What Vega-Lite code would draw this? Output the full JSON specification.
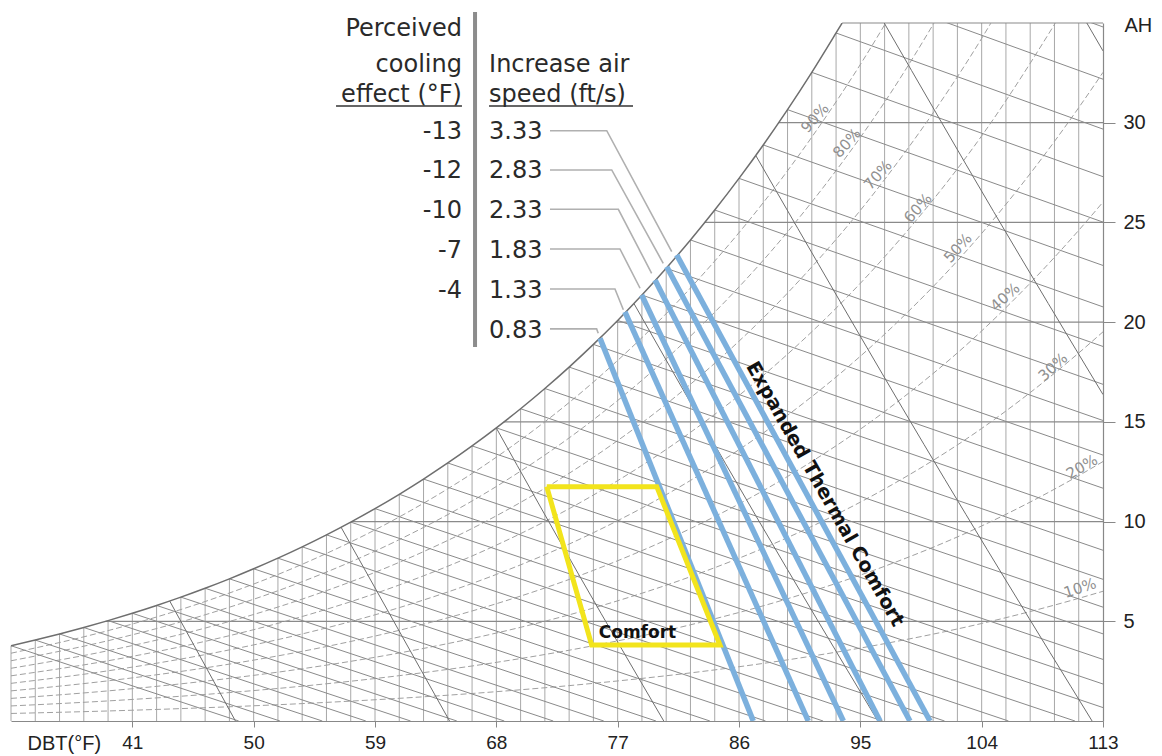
{
  "$schema": "https://vega.github.io/schema/vega-lite/v6.json",
  "width": 1092,
  "height": 698,
  "autosize": {"type": "none"},
  "padding": {"left": 11, "top": 23, "right": 59, "bottom": 35},
  "background": "white",
  "config": {"view": {"stroke": null}},
  "datasets": {
    "vert": [
      {"t":32,"w":3.775},{"t":33.8,"w":4.06},{"t":35.6,"w":4.364},{"t":37.4,"w":4.688},{"t":39.2,"w":5.034},{"t":41,"w":5.403},{"t":42.8,"w":5.795},{"t":44.6,"w":6.212},{"t":46.4,"w":6.657},{"t":48.2,"w":7.129},{"t":50,"w":7.632},{"t":51.8,"w":8.165},{"t":53.6,"w":8.732},{"t":55.4,"w":9.334},{"t":57.2,"w":9.973},{"t":59,"w":10.65},{"t":60.8,"w":11.369},{"t":62.6,"w":12.131},{"t":64.4,"w":12.938},{"t":66.2,"w":13.794},{"t":68,"w":14.699},{"t":69.8,"w":15.658},{"t":71.6,"w":16.673},{"t":73.4,"w":17.747},{"t":75.2,"w":18.884},{"t":77,"w":20.087},{"t":78.8,"w":21.358},{"t":80.6,"w":22.702},{"t":82.4,"w":24.122},{"t":84.2,"w":25.623},{"t":86,"w":27.21},{"t":87.8,"w":28.885},{"t":89.6,"w":30.655},{"t":91.4,"w":32.525},{"t":93.2,"w":34.5},{"t":95,"w":35},{"t":96.8,"w":35},{"t":98.6,"w":35},{"t":100.4,"w":35},{"t":102.2,"w":35},{"t":104,"w":35},{"t":105.8,"w":35},{"t":107.6,"w":35},{"t":109.4,"w":35},{"t":111.2,"w":35}
    ],
    "sat": [
      {"t":32,"w":3.775},{"t":33.8,"w":4.06},{"t":35.6,"w":4.364},{"t":37.4,"w":4.688},{"t":39.2,"w":5.034},{"t":41,"w":5.403},{"t":42.8,"w":5.795},{"t":44.6,"w":6.212},{"t":46.4,"w":6.657},{"t":48.2,"w":7.129},{"t":50,"w":7.632},{"t":51.8,"w":8.165},{"t":53.6,"w":8.732},{"t":55.4,"w":9.334},{"t":57.2,"w":9.973},{"t":59,"w":10.65},{"t":60.8,"w":11.369},{"t":62.6,"w":12.131},{"t":64.4,"w":12.938},{"t":66.2,"w":13.794},{"t":68,"w":14.699},{"t":69.8,"w":15.658},{"t":71.6,"w":16.673},{"t":73.4,"w":17.747},{"t":75.2,"w":18.884},{"t":77,"w":20.087},{"t":78.8,"w":21.358},{"t":80.6,"w":22.702},{"t":82.4,"w":24.122},{"t":84.2,"w":25.623},{"t":86,"w":27.21},{"t":87.8,"w":28.885},{"t":89.6,"w":30.655},{"t":91.4,"w":32.525},{"t":93.2,"w":34.5},{"t":93.65,"w":35}
    ],
    "hor": [
      {"t":39.02,"w":5},{"t":57.27,"w":10},{"t":68.56,"w":15},{"t":76.87,"w":20},{"t":83.45,"w":25},{"t":88.93,"w":30},{"t":93.65,"w":35}
    ],
    "rh": [
      {"rh":10,"t":32,"w":0.378},{"rh":10,"t":39.2,"w":0.503},{"rh":10,"t":46.4,"w":0.666},{"rh":10,"t":53.6,"w":0.873},{"rh":10,"t":60.8,"w":1.137},{"rh":10,"t":68,"w":1.47},{"rh":10,"t":75.2,"w":1.888},{"rh":10,"t":82.4,"w":2.412},{"rh":10,"t":89.6,"w":3.066},{"rh":10,"t":96.8,"w":3.879},{"rh":10,"t":104,"w":4.89},{"rh":10,"t":111.2,"w":6.151},{"rh":10,"t":113,"w":6.505},
      {"rh":20,"t":32,"w":0.755},{"rh":20,"t":39.2,"w":1.007},{"rh":20,"t":46.4,"w":1.331},{"rh":20,"t":53.6,"w":1.746},{"rh":20,"t":60.8,"w":2.274},{"rh":20,"t":68,"w":2.94},{"rh":20,"t":75.2,"w":3.777},{"rh":20,"t":82.4,"w":4.824},{"rh":20,"t":89.6,"w":6.131},{"rh":20,"t":96.8,"w":7.758},{"rh":20,"t":104,"w":9.78},{"rh":20,"t":111.2,"w":12.302},{"rh":20,"t":113,"w":13.01},
      {"rh":30,"t":32,"w":1.133},{"rh":30,"t":39.2,"w":1.51},{"rh":30,"t":46.4,"w":1.997},{"rh":30,"t":53.6,"w":2.62},{"rh":30,"t":60.8,"w":3.411},{"rh":30,"t":68,"w":4.41},{"rh":30,"t":75.2,"w":5.665},{"rh":30,"t":82.4,"w":7.237},{"rh":30,"t":89.6,"w":9.197},{"rh":30,"t":96.8,"w":11.637},{"rh":30,"t":104,"w":14.669},{"rh":30,"t":111.2,"w":18.454},{"rh":30,"t":113,"w":19.515},
      {"rh":40,"t":32,"w":1.51},{"rh":40,"t":39.2,"w":2.014},{"rh":40,"t":46.4,"w":2.663},{"rh":40,"t":53.6,"w":3.493},{"rh":40,"t":60.8,"w":4.548},{"rh":40,"t":68,"w":5.88},{"rh":40,"t":75.2,"w":7.554},{"rh":40,"t":82.4,"w":9.649},{"rh":40,"t":89.6,"w":12.262},{"rh":40,"t":96.8,"w":15.516},{"rh":40,"t":104,"w":19.559},{"rh":40,"t":111.2,"w":24.605},{"rh":40,"t":113,"w":26.02},
      {"rh":50,"t":32,"w":1.888},{"rh":50,"t":39.2,"w":2.517},{"rh":50,"t":46.4,"w":3.329},{"rh":50,"t":53.6,"w":4.366},{"rh":50,"t":60.8,"w":5.685},{"rh":50,"t":68,"w":7.35},{"rh":50,"t":75.2,"w":9.442},{"rh":50,"t":82.4,"w":12.061},{"rh":50,"t":89.6,"w":15.328},{"rh":50,"t":96.8,"w":19.395},{"rh":50,"t":104,"w":24.449},{"rh":50,"t":111.2,"w":30.756},{"rh":50,"t":113,"w":32.525},
      {"rh":60,"t":32,"w":2.265},{"rh":60,"t":39.2,"w":3.02},{"rh":60,"t":46.4,"w":3.994},{"rh":60,"t":53.6,"w":5.239},{"rh":60,"t":60.8,"w":6.821},{"rh":60,"t":68,"w":8.819},{"rh":60,"t":75.2,"w":11.33},{"rh":60,"t":82.4,"w":14.473},{"rh":60,"t":89.6,"w":18.393},{"rh":60,"t":96.8,"w":23.273},{"rh":60,"t":104,"w":29.339},{"rh":60,"t":111.2,"w":36.907},
      {"rh":70,"t":32,"w":2.643},{"rh":70,"t":39.2,"w":3.524},{"rh":70,"t":46.4,"w":4.66},{"rh":70,"t":53.6,"w":6.112},{"rh":70,"t":60.8,"w":7.958},{"rh":70,"t":68,"w":10.289},{"rh":70,"t":75.2,"w":13.219},{"rh":70,"t":82.4,"w":16.885},{"rh":70,"t":89.6,"w":21.459},{"rh":70,"t":96.8,"w":27.152},{"rh":70,"t":104,"w":34.229},{"rh":70,"t":111.2,"w":43.058},
      {"rh":80,"t":32,"w":3.02},{"rh":80,"t":39.2,"w":4.027},{"rh":80,"t":46.4,"w":5.326},{"rh":80,"t":53.6,"w":6.986},{"rh":80,"t":60.8,"w":9.095},{"rh":80,"t":68,"w":11.759},{"rh":80,"t":75.2,"w":15.107},{"rh":80,"t":82.4,"w":19.298},{"rh":80,"t":89.6,"w":24.524},{"rh":80,"t":96.8,"w":31.031},{"rh":80,"t":104,"w":39.118},
      {"rh":90,"t":32,"w":3.398},{"rh":90,"t":39.2,"w":4.531},{"rh":90,"t":46.4,"w":5.991},{"rh":90,"t":53.6,"w":7.859},{"rh":90,"t":60.8,"w":10.232},{"rh":90,"t":68,"w":13.229},{"rh":90,"t":75.2,"w":16.996},{"rh":90,"t":82.4,"w":21.71},{"rh":90,"t":89.6,"w":27.59},{"rh":90,"t":96.8,"w":34.91},{"rh":90,"t":104,"w":44.008}
    ],
    "wb": [
      {"wb":0,"t":32,"w":3.775},{"wb":0,"t":48.89,"w":0},
      {"wb":1,"t":33.8,"w":4.06},{"wb":1,"t":51.95,"w":0},
      {"wb":2,"t":35.6,"w":4.364},{"wb":2,"t":55.09,"w":0},
      {"wb":3,"t":37.4,"w":4.688},{"wb":3,"t":58.32,"w":0},
      {"wb":4,"t":39.2,"w":5.034},{"wb":4,"t":61.64,"w":0},
      {"wb":5,"t":41,"w":5.403},{"wb":5,"t":65.07,"w":0},
      {"wb":6,"t":42.8,"w":5.795},{"wb":6,"t":68.59,"w":0},
      {"wb":7,"t":44.6,"w":6.212},{"wb":7,"t":72.22,"w":0},
      {"wb":8,"t":46.4,"w":6.657},{"wb":8,"t":75.97,"w":0},
      {"wb":9,"t":48.2,"w":7.129},{"wb":9,"t":79.84,"w":0},
      {"wb":10,"t":50,"w":7.632},{"wb":10,"t":83.84,"w":0},
      {"wb":11,"t":51.8,"w":8.165},{"wb":11,"t":87.97,"w":0},
      {"wb":12,"t":53.6,"w":8.732},{"wb":12,"t":92.24,"w":0},
      {"wb":13,"t":55.4,"w":9.334},{"wb":13,"t":96.66,"w":0},
      {"wb":14,"t":57.2,"w":9.973},{"wb":14,"t":101.25,"w":0},
      {"wb":15,"t":59,"w":10.65},{"wb":15,"t":105.99,"w":0},
      {"wb":16,"t":60.8,"w":11.369},{"wb":16,"t":110.92,"w":0},
      {"wb":17,"t":62.6,"w":12.131},{"wb":17,"t":113,"w":0.673},
      {"wb":18,"t":64.4,"w":12.938},{"wb":18,"t":113,"w":1.855},
      {"wb":19,"t":66.2,"w":13.794},{"wb":19,"t":113,"w":3.087},
      {"wb":20,"t":68,"w":14.699},{"wb":20,"t":113,"w":4.37},
      {"wb":21,"t":69.8,"w":15.658},{"wb":21,"t":113,"w":5.708},
      {"wb":22,"t":71.6,"w":16.673},{"wb":22,"t":113,"w":7.104},
      {"wb":23,"t":73.4,"w":17.747},{"wb":23,"t":113,"w":8.561},
      {"wb":24,"t":75.2,"w":18.884},{"wb":24,"t":113,"w":10.083},
      {"wb":25,"t":77,"w":20.087},{"wb":25,"t":113,"w":11.673},
      {"wb":26,"t":78.8,"w":21.358},{"wb":26,"t":113,"w":13.333},
      {"wb":27,"t":80.6,"w":22.702},{"wb":27,"t":113,"w":15.068},
      {"wb":28,"t":82.4,"w":24.122},{"wb":28,"t":113,"w":16.882},
      {"wb":29,"t":84.2,"w":25.623},{"wb":29,"t":113,"w":18.78},
      {"wb":30,"t":86,"w":27.21},{"wb":30,"t":113,"w":20.765},
      {"wb":31,"t":87.8,"w":28.885},{"wb":31,"t":113,"w":22.842},
      {"wb":32,"t":89.6,"w":30.655},{"wb":32,"t":113,"w":25.016},
      {"wb":33,"t":91.4,"w":32.525},{"wb":33,"t":113,"w":27.294},
      {"wb":34,"t":93.2,"w":34.5},{"wb":34,"t":113,"w":29.68},
      {"wb":35,"t":95,"w":36.587},{"wb":35,"t":113,"w":32.182},
      {"wb":36,"t":96.8,"w":38.789},{"wb":36,"t":113,"w":34.802}
    ],
    "vol": [
      {"v":0.8,"t":43.77,"w":6.02},{"v":0.8,"t":48.65,"w":0},
      {"v":0.825,"t":56.48,"w":9.72},{"v":0.825,"t":64.53,"w":0},
      {"v":0.85,"t":68,"w":14.69},{"v":0.85,"t":74.21,"w":7.23},{"v":0.85,"t":80.42,"w":0},
      {"v":0.875,"t":78.2,"w":20.94},{"v":0.875,"t":87.25,"w":10.29},{"v":0.875,"t":96.3,"w":0},
      {"v":0.9,"t":87.24,"w":28.36},{"v":0.9,"t":99.72,"w":13.87},{"v":0.9,"t":112.19,"w":0},
      {"v":0.925,"t":96.77,"w":35},{"v":0.925,"t":104.88,"w":25.55},{"v":0.925,"t":113,"w":16.37},
      {"v":0.95,"t":111.8,"w":35},{"v":0.95,"t":113,"w":33.6}
    ],
    "blue": [
      {"speed":"0.83","t":75.69,"w":19.19},{"speed":"0.83","t":87.06,"w":0},
      {"speed":"1.33","t":77.54,"w":20.52},{"speed":"1.33","t":91.14,"w":0},
      {"speed":"1.83","t":78.78,"w":21.36},{"speed":"1.83","t":93.74,"w":0},
      {"speed":"2.33","t":79.77,"w":22.11},{"speed":"2.33","t":96.46,"w":0},
      {"speed":"2.83","t":80.64,"w":22.78},{"speed":"2.83","t":98.68,"w":0},
      {"speed":"3.33","t":81.38,"w":23.37},{"speed":"3.33","t":100.17,"w":0}
    ],
    "comfort": [
      {"i":0,"t":71.74,"w":11.75},{"i":1,"t":79.9,"w":11.75},{"i":2,"t":84.59,"w":3.81},{"i":3,"t":75.07,"w":3.81},{"i":4,"t":71.74,"w":11.75}
    ],
    "leader": [
      {"row":"3.33","t":71.98,"w":29.6},{"row":"3.33","t":76.19,"w":29.6},{"row":"3.33","t":81.01,"w":23.53},
      {"row":"2.83","t":71.98,"w":27.63},{"row":"2.83","t":76.56,"w":27.63},{"row":"2.83","t":80.38,"w":22.95},
      {"row":"2.33","t":71.98,"w":25.66},{"row":"2.33","t":77.05,"w":25.66},{"row":"2.33","t":79.52,"w":22.45},
      {"row":"1.83","t":71.98,"w":23.67},{"row":"1.83","t":77.17,"w":23.67},{"row":"1.83","t":78.66,"w":21.7},
      {"row":"1.33","t":71.98,"w":21.66},{"row":"1.33","t":76.8,"w":21.66},{"row":"1.33","t":77.42,"w":20.62},
      {"row":"0.83","t":71.98,"w":19.66},{"row":"0.83","t":75.44,"w":19.66},{"row":"0.83","t":75.56,"w":19.44}
    ],
    "bar": [{"t":66.42,"w":18.75,"w2":35.55}],
    "underline": [{"t":56.11,"t2":65.45,"w":30.84},{"t":67.46,"t2":78.14,"w":30.84}],
    "colR": [
      {"t":65.45,"w":34.35,"label":"Perceived"},
      {"t":65.45,"w":32.56,"label":"cooling"},
      {"t":65.45,"w":31.05,"label":"effect (°F)"},
      {"t":65.45,"w":29.18,"label":"-13"},
      {"t":65.45,"w":27.23,"label":"-12"},
      {"t":65.45,"w":25.22,"label":"-10"},
      {"t":65.45,"w":23.22,"label":"-7"},
      {"t":65.45,"w":21.21,"label":"-4"}
    ],
    "colL": [
      {"t":67.46,"w":32.56,"label":"Increase air"},
      {"t":67.46,"w":31.05,"label":"speed (ft/s)"},
      {"t":67.46,"w":29.18,"label":"3.33"},
      {"t":67.46,"w":27.23,"label":"2.83"},
      {"t":67.46,"w":25.22,"label":"2.33"},
      {"t":67.46,"w":23.22,"label":"1.83"},
      {"t":67.46,"w":21.21,"label":"1.33"},
      {"t":67.46,"w":19.21,"label":"0.83"}
    ],
    "rhlab": [
      {"t":111.29,"w":6.67,"label":"10%"},
      {"t":111.44,"w":12.74,"label":"20%"},
      {"t":109.29,"w":17.75,"label":"30%"},
      {"t":105.73,"w":21.26,"label":"40%"},
      {"t":102.24,"w":23.72,"label":"50%"},
      {"t":99.28,"w":25.72,"label":"60%"},
      {"t":96.31,"w":27.38,"label":"70%"},
      {"t":94.01,"w":28.98,"label":"80%"},
      {"t":91.64,"w":30.24,"label":"90%"}
    ]
  },
  "encoding": {
    "x": {
      "field": "t", "type": "quantitative",
      "scale": {"domain": [32, 113], "nice": false, "zero": false},
      "axis": {
        "values": [41, 50, 59, 68, 77, 86, 95, 104, 113],
        "grid": false, "tickSize": 6, "tickColor": "#888", "domainColor": "#888", "domainWidth": 1.2,
        "labelFont": "Liberation Sans", "labelFontSize": 19, "labelColor": "#222", "labelPadding": 6,
        "labelFlush": false,
        "title": "DBT(°F)", "titleFont": "Liberation Sans", "titleFontSize": 20, "titleFontWeight": "normal",
        "titleColor": "#222", "titleX": 16, "titleY": 28, "titleAlign": "left", "titleBaseline": "alphabetic"
      }
    },
    "y": {
      "field": "w", "type": "quantitative",
      "scale": {"domain": [0, 35], "nice": false, "zero": false},
      "axis": {
        "orient": "right",
        "values": [5, 10, 15, 20, 25, 30],
        "grid": false, "tickSize": 12, "tickColor": "#888", "domainColor": "#888", "domainWidth": 1.2,
        "labelFont": "Liberation Sans", "labelFontSize": 20, "labelColor": "#222", "labelPadding": 8,
        "title": "AH", "titleFont": "Liberation Sans", "titleFontSize": 20, "titleFontWeight": "normal",
        "titleColor": "#222", "titleAngle": 0, "titleX": 21, "titleY": 2, "titleAlign": "left", "titleBaseline": "middle"
      }
    }
  },
  "layer": [
    {
      "data": {"name": "vert"},
      "mark": {"type": "rule", "color": "#a8a8a8", "strokeWidth": 1},
      "encoding": {"y2": {"datum": 0}}
    },
    {
      "data": {"name": "hor"},
      "mark": {"type": "rule", "color": "#8a8a8a", "strokeWidth": 1.2},
      "encoding": {"x2": {"datum": 113}}
    },
    {
      "data": {"name": "rh"},
      "mark": {"type": "line", "color": "#a0a0a0", "strokeWidth": 1, "strokeDash": [6, 3], "interpolate": "monotone", "clip": true},
      "encoding": {"detail": {"field": "rh"}}
    },
    {
      "data": {"name": "wb"},
      "mark": {"type": "line", "color": "#8a8a8a", "strokeWidth": 1, "clip": true},
      "encoding": {"detail": {"field": "wb"}}
    },
    {
      "data": {"name": "vol"},
      "mark": {"type": "line", "color": "#6e6e6e", "strokeWidth": 1, "interpolate": "monotone", "clip": true},
      "encoding": {"detail": {"field": "v"}}
    },
    {
      "data": {"name": "sat"},
      "mark": {"type": "line", "color": "#6e6e6e", "strokeWidth": 1.5, "interpolate": "monotone", "clip": true},
      "encoding": {}
    },
    {
      "data": {"name": "blue"},
      "mark": {"type": "line", "color": "#7cb0dd", "strokeWidth": 5.5, "strokeCap": "butt", "clip": true},
      "encoding": {"detail": {"field": "speed"}}
    },
    {
      "data": {"name": "comfort"},
      "mark": {"type": "line", "color": "#f2e41c", "strokeWidth": 5, "strokeJoin": "miter"},
      "encoding": {"order": {"field": "i"}}
    },
    {
      "data": {"name": "leader"},
      "mark": {"type": "line", "color": "#b0b0b0", "strokeWidth": 1.6},
      "encoding": {"detail": {"field": "row"}}
    },
    {
      "data": {"name": "bar"},
      "mark": {"type": "rule", "color": "#8c8c8c", "strokeWidth": 4},
      "encoding": {"y2": {"field": "w2"}}
    },
    {
      "data": {"name": "underline"},
      "mark": {"type": "rule", "color": "#333", "strokeWidth": 1.5},
      "encoding": {"x2": {"field": "t2"}}
    },
    {
      "data": {"name": "colR"},
      "mark": {"type": "text", "align": "right", "baseline": "alphabetic", "font": "DejaVu Sans", "fontSize": 24, "color": "#2a2a2a"},
      "encoding": {"text": {"field": "label"}}
    },
    {
      "data": {"name": "colL"},
      "mark": {"type": "text", "align": "left", "baseline": "alphabetic", "font": "DejaVu Sans", "fontSize": 24, "color": "#2a2a2a"},
      "encoding": {"text": {"field": "label"}}
    },
    {
      "data": {"values": [{"t": 78.47, "w": 4.4, "label": "Comfort"}]},
      "mark": {"type": "text", "align": "center", "baseline": "middle", "font": "DejaVu Sans", "fontWeight": "bold", "fontSize": 17, "color": "#111"},
      "encoding": {"text": {"field": "label"}}
    },
    {
      "data": {"values": [{"t": 92.38, "w": 11.38, "label": "Expanded Thermal Comfort"}]},
      "mark": {"type": "text", "align": "center", "baseline": "middle", "angle": 60.5, "font": "DejaVu Sans", "fontWeight": "bold", "fontSize": 19.5, "color": "#111"},
      "encoding": {"text": {"field": "label"}}
    },
    {
      "data": {"name": "rhlab"},
      "transform": [{"filter": "datum.label == '10%'"}],
      "mark": {"type": "text", "align": "center", "baseline": "middle", "angle": -18, "font": "DejaVu Sans", "fontSize": 15, "color": "#909090"},
      "encoding": {"text": {"field": "label"}}
    },
    {
      "data": {"name": "rhlab"},
      "transform": [{"filter": "datum.label == '20%'"}],
      "mark": {"type": "text", "align": "center", "baseline": "middle", "angle": -30, "font": "DejaVu Sans", "fontSize": 15, "color": "#909090"},
      "encoding": {"text": {"field": "label"}}
    },
    {
      "data": {"name": "rhlab"},
      "transform": [{"filter": "datum.label == '30%' || datum.label == '40%'"}],
      "mark": {"type": "text", "align": "center", "baseline": "middle", "angle": -42, "font": "DejaVu Sans", "fontSize": 15, "color": "#909090"},
      "encoding": {"text": {"field": "label"}}
    },
    {
      "data": {"name": "rhlab"},
      "transform": [{"filter": "datum.label != '10%' && datum.label != '20%' && datum.label != '30%' && datum.label != '40%'"}],
      "mark": {"type": "text", "align": "center", "baseline": "middle", "angle": -48, "font": "DejaVu Sans", "fontSize": 15, "color": "#909090"},
      "encoding": {"text": {"field": "label"}}
    }
  ]
}
